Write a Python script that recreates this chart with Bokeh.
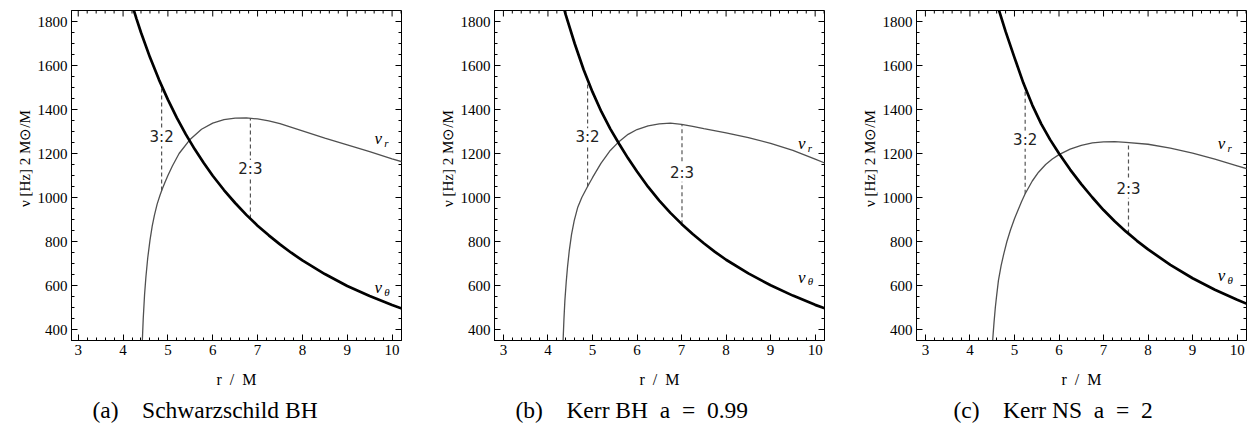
import numpy as np
from bokeh.plotting import figure
from bokeh.models import Range1d, SingleIntervalTicker, Label, Title
from bokeh.layouts import row
from bokeh.embed import file_html
from bokeh.resources import INLINE

# ---------------- Panel (a) Schwarzschild BH ----------------
r_theta_a = [4.20, 4.30, 4.40, 4.60, 4.80, 5.00, 5.20, 5.40, 5.60, 5.80, 6.00, 6.25, 6.50,
             6.75, 7.00, 7.25, 7.50, 7.75, 8.00, 8.50, 9.00, 9.50, 10.00, 10.30]
nu_theta_a = [1877, 1812, 1750, 1637, 1536, 1445, 1362, 1287, 1219, 1157, 1099, 1034, 975,
              921, 872, 828, 787, 749, 714, 652, 598, 552, 511, 489]
r_r_a = [4.41, 4.43, 4.45, 4.48, 4.51, 4.55, 4.60, 4.65, 4.70, 4.76, 4.82, 4.87, 4.94,
         5.00, 5.10, 5.25, 5.50, 5.75, 6.00, 6.25, 6.50, 6.75, 7.00, 7.25, 7.50, 8.00,
         8.50, 9.00, 9.50, 10.00, 10.30]
nu_r_a = [220, 350, 450, 560, 640, 725, 805, 870, 920, 970, 1008, 1036, 1072,
          1100, 1143, 1200, 1265, 1310, 1338, 1354, 1361, 1362, 1357, 1348, 1336, 1303,
          1270, 1239, 1208, 1176, 1158]
res_r_a = [4.86, 6.84]
res_lo_a = [1032, 905]
res_hi_a = [1510, 1360]
res_text_a = ["3:2", "2:3"]
res_text_y_a = [1274, 1130]
nu_lab_a = [9.69, 1267, 590]   # x, y of nu_r label, y of nu_theta label
cap_a = "(a)\u2003Schwarzschild BH"

# ---------------- Panel (b) Kerr BH a = 0.99 ----------------
r_theta_b = [4.30, 4.40, 4.60, 4.80, 5.00, 5.20, 5.40, 5.60, 5.80, 6.00, 6.25, 6.50, 6.75,
             7.00, 7.25, 7.50, 7.75, 8.00, 8.50, 9.00, 9.50, 10.00, 10.30]
nu_theta_b = [1905, 1830, 1700, 1582, 1480, 1390, 1312, 1243, 1178, 1118, 1048, 986, 930,
              880, 834, 792, 753, 717, 655, 601, 554, 512, 490]
r_r_b = [4.32, 4.34, 4.36, 4.38, 4.41, 4.44, 4.48, 4.53, 4.59, 4.67, 4.76, 4.89, 5.00,
         5.19, 5.40, 5.60, 5.80, 6.00, 6.25, 6.50, 6.75, 7.00, 7.25, 7.50, 8.00, 8.50,
         9.00, 9.50, 10.00, 10.30]
nu_r_b = [240, 350, 450, 530, 615, 685, 760, 832, 895, 956, 1000, 1050, 1090,
          1155, 1214, 1255, 1287, 1309, 1326, 1335, 1338, 1332, 1323, 1313, 1294, 1272,
          1246, 1214, 1174, 1150]
res_r_b = [4.89, 7.01]
res_lo_b = [1050, 878]
res_hi_b = [1536, 1332]
res_text_b = ["3:2", "2:3"]
res_text_y_b = [1274, 1112]
nu_lab_b = [9.70, 1244, 638]
cap_b = "(b)\u2003Kerr BH\u2002a\u2002=\u20020.99"

# ---------------- Panel (c) Kerr NS a = 2 ----------------
r_theta_c = [4.55, 4.60, 4.80, 5.00, 5.20, 5.40, 5.60, 5.80, 6.00, 6.25, 6.50, 6.75, 7.00,
             7.25, 7.50, 7.75, 8.00, 8.50, 9.00, 9.50, 10.00, 10.30]
nu_theta_c = [1925, 1885, 1755, 1636, 1520, 1420, 1335, 1263, 1200, 1127, 1061, 1000, 943,
              892, 846, 803, 764, 694, 633, 581, 535, 510]
r_r_c = [4.49, 4.51, 4.54, 4.57, 4.60, 4.64, 4.70, 4.76, 4.83, 4.91, 5.00, 5.09, 5.16,
         5.24, 5.40, 5.54, 5.70, 5.85, 6.00, 6.25, 6.50, 6.75, 7.00, 7.25, 7.50, 8.00,
         8.50, 9.00, 9.50, 10.00, 10.30]
nu_r_c = [270, 350, 430, 500, 555, 623, 690, 744, 800, 852, 903, 948, 982,
          1017, 1075, 1115, 1150, 1175, 1195, 1220, 1237, 1248, 1253, 1254, 1251, 1242,
          1224, 1202, 1174, 1144, 1126]
res_r_c = [5.24, 7.56]
res_lo_c = [1017, 836]
res_hi_c = [1500, 1251]
res_text_c = ["3:2", "2:3"]
res_text_y_c = [1262, 1040]
nu_lab_c = [9.65, 1244, 645]
cap_c = "(c)\u2003Kerr NS\u2002a\u2002=\u20022"

X_END = 10.21
Y_START, Y_END = 350, 1850
FRAME = 330
SERIF = "Liberation Serif"
Y_LABEL = "\u2003\u2003\u2002\u03bd [Hz]  2 M\u2299/M"


def style_axis(ax):
    ax.major_tick_in = 6
    ax.major_tick_out = 0
    ax.minor_tick_in = 3
    ax.minor_tick_out = 0
    ax.axis_line_color = "black"
    ax.major_tick_line_color = "black"
    ax.minor_tick_line_color = "black"
    ax.major_label_text_font = SERIF
    ax.major_label_text_font_size = "15px"
    ax.major_label_text_color = "black"
    ax.major_label_standoff = 4
    ax.axis_label_text_font = SERIF
    ax.axis_label_text_font_style = "normal"
    ax.axis_label_text_color = "black"


def mirror_ticks(p, x_start):
    # ticks on the top and right frame edges, pointing inward (like the bottom/left axes)
    sx = (X_END - x_start) / FRAME
    sy = (Y_END - Y_START) / FRAME
    xt = np.round(np.arange(3.0, X_END, 0.2), 2)
    xmaj = np.isclose(xt, np.round(xt))
    xlen = np.where(xmaj, 6, 3) * sy
    p.segment(x0=xt, y0=np.full(len(xt), Y_END), x1=xt, y1=Y_END - xlen,
              line_color="black", line_width=1)
    yt = np.arange(400, Y_END, 50)
    ymaj = (yt % 200) == 0
    ylen = np.where(ymaj, 6, 3) * sx
    p.segment(x0=np.full(len(yt), X_END), y0=yt, x1=X_END - ylen, y1=yt,
              line_color="black", line_width=1)


def make_panel(r_th, nu_th, r_r, nu_r, res_r, res_lo, res_hi, res_text, res_text_y,
               nu_lab, caption, cap_offset, x_start, bl, br):
    p = figure(frame_width=FRAME, frame_height=FRAME,
               x_range=Range1d(x_start, X_END), y_range=Range1d(Y_START, Y_END),
               output_backend="svg", toolbar_location=None,
               min_border_left=bl, min_border_right=br,
               min_border_top=10, min_border_bottom=86,
               x_axis_label="r\u2002/\u2002M", y_axis_label=Y_LABEL)
    p.grid.visible = False
    p.outline_line_color = "black"
    p.background_fill_color = "white"
    p.border_fill_color = "white"

    p.xaxis.ticker = SingleIntervalTicker(interval=1, num_minor_ticks=5)
    p.yaxis.ticker = SingleIntervalTicker(interval=200, num_minor_ticks=4)
    for ax in list(p.xaxis) + list(p.yaxis):
        style_axis(ax)
    p.xaxis.axis_label_text_font_size = "16px"
    p.xaxis.axis_label_standoff = 13
    p.yaxis.axis_label_text_font_size = "15px"
    p.yaxis.axis_label_standoff = 2

    mirror_ticks(p, x_start)

    # resonance dashed lines
    p.segment(x0=res_r, y0=res_lo, x1=res_r, y1=res_hi, line_dash="4 3",
              line_color="#555555", line_width=1.2)
    # curves
    p.line(r_r, nu_r, line_width=1.3, line_color="#505050")
    p.line(r_th, nu_th, line_width=2.7, line_color="black")

    for xr, ty, tt in zip(res_r, res_text_y, res_text):
        p.add_layout(Label(x=xr, y=ty, text=tt, text_align="center", text_baseline="middle",
                           text_font="DejaVu Sans", text_font_size="15px", text_color="#222222",
                           background_fill_color="white"))

    lx, ly_r, ly_th = nu_lab
    for yy, sub in ((ly_r, "r"), (ly_th, "\u03b8")):
        p.add_layout(Label(x=lx, y=yy, text="\u03bd", text_align="center", text_baseline="middle",
                           text_font=SERIF, text_font_size="17px", text_font_style="italic",
                           text_color="black"))
        p.add_layout(Label(x=lx, y=yy, x_offset=6, y_offset=-4, text=sub, text_align="left",
                           text_baseline="middle", text_font=SERIF, text_font_size="11px",
                           text_font_style="italic", text_color="black"))

    p.add_layout(Title(text=caption, align="left", text_font=SERIF, text_font_size="23.5px",
                       text_font_style="normal", text_color="black", offset=cap_offset,
                       standoff=8), "below")
    return p


pa = make_panel(r_theta_a, nu_theta_a, r_r_a, nu_r_a, res_r_a, res_lo_a, res_hi_a,
                res_text_a, res_text_y_a, nu_lab_a, cap_a, 21, 2.85, 71, 23)
pb = make_panel(r_theta_b, nu_theta_b, r_r_b, nu_r_b, res_r_b, res_lo_b, res_hi_b,
                res_text_b, res_text_y_b, nu_lab_b, cap_b, 21, 2.80, 70, 22)
pc = make_panel(r_theta_c, nu_theta_c, r_r_c, nu_r_c, res_r_c, res_lo_c, res_hi_c,
                res_text_c, res_text_y_c, nu_lab_c, cap_c, 37, 2.80, 70, 3)

layout = row(pa, pb, pc)
open("out.html", "w").write(file_html(layout, INLINE))
